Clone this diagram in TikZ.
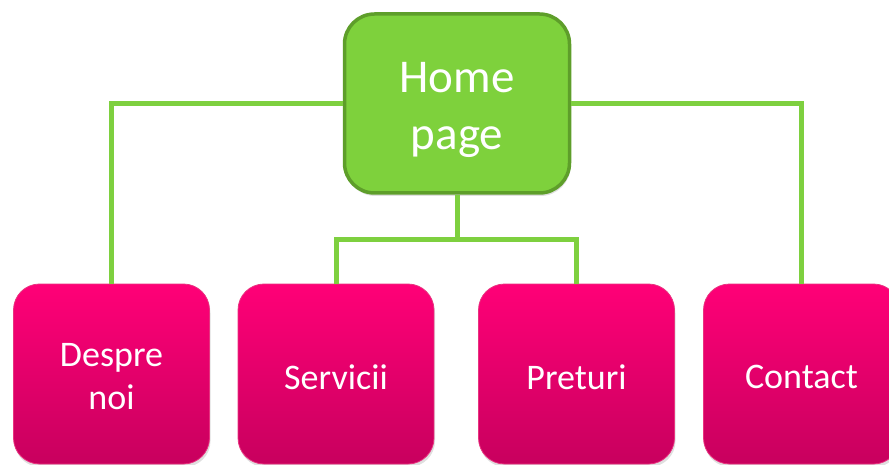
\documentclass[tikz,border=0pt]{standalone}
\usepackage{fontspec}
\setmainfont{Carlito}
\usetikzlibrary{shadows}
\definecolor{hfill}{HTML}{7ED13C}
\definecolor{hdraw}{HTML}{5E9E2A}
\definecolor{linkc}{HTML}{7ED03F}
\definecolor{ptop}{HTML}{FF0077}
\definecolor{pbot}{HTML}{C8005E}
\definecolor{pedge}{HTML}{E8337F}
\begin{document}
\begin{tikzpicture}[x=1pt,y=-1pt,
  homebox/.style={draw=hdraw,line width=3.5pt,fill=hfill,rounded corners=30pt,
    minimum width=225pt,minimum height=179pt,inner sep=0pt,
    drop shadow={opacity=0.25,shadow xshift=1pt,shadow yshift=-3pt}},
  hometext/.style={inner sep=0pt,align=center,text=white,
    font=\fontsize{47}{57}\selectfont},
  pagebox/.style={draw=pedge,line width=0.8pt,top color=ptop,bottom color=pbot,
    rounded corners=26pt,minimum width=196pt,minimum height=180pt,inner sep=0pt,
    drop shadow={opacity=0.25,shadow xshift=1pt,shadow yshift=-3pt}},
  pagetext/.style={inner sep=0pt,align=center,text=white,
    font=\fontsize{36}{43}\selectfont},
  link/.style={draw=linkc,line width=5pt}]
\useasboundingbox (0,0) rectangle (889,465);
\clip (0,0) rectangle (889,465);
\node[homebox] (home) at (457,103.5) {};
\node[pagebox] (despre) at (111.5,374) {};
\node[pagebox] (serv) at (336,374) {};
\node[pagebox] (pret) at (576.5,374) {};
\node[pagebox] (cont) at (801.5,374) {};
\node[hometext] (homet) at ([yshift=-6pt]home.center) {Home\\page};
\node[pagetext] (despret) at ([yshift=-3pt]despre.center) {Despre\\noi};
\node[pagetext] (servt) at ([yshift=-3pt]serv.center) {Servicii};
\node[pagetext] (prett) at ([yshift=-3pt]pret.center) {Preturi};
\node[pagetext] (contt) at ([yshift=-3pt]cont.center) {Contact};
\coordinate (mid) at (457,240);
\draw[link] (home.west) -| (despre.north);
\draw[link] (home.east) -| (cont.north);
\draw[link] (home.south) -- (mid);
\draw[link] (serv.north) |- (mid) -| (pret.north);
\end{tikzpicture}
\end{document}
